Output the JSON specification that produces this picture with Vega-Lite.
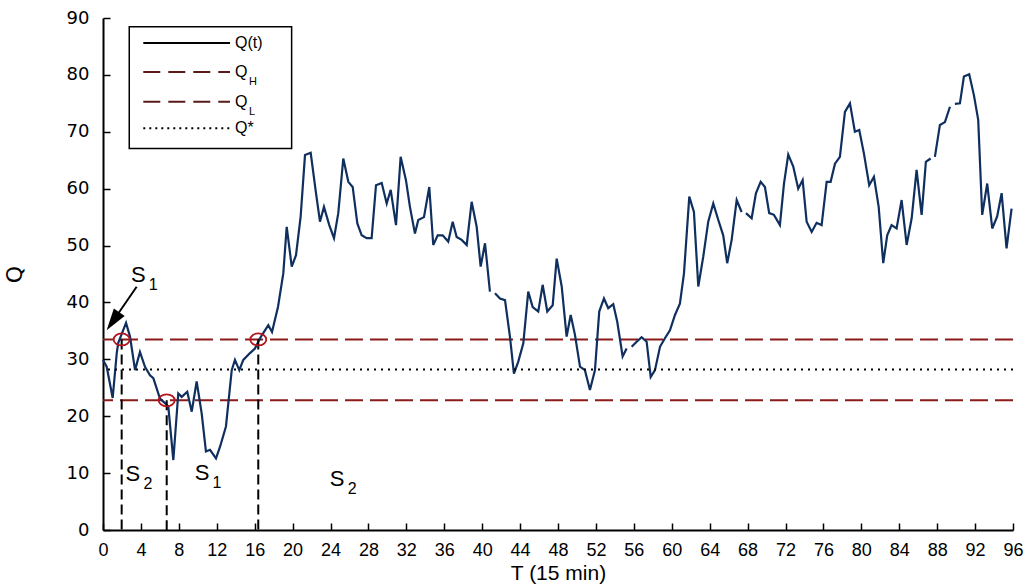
{
  "$schema": "https://vega.github.io/schema/vega-lite/v6.json",
  "width": 910,
  "height": 512,
  "autosize": {"type": "none"},
  "padding": {"left": 103, "top": 18, "right": 17, "bottom": 55},
  "background": "white",
  "config": {"view": {"stroke": null}, "font": "Liberation Sans"},
  "resolve": {"axis": {"x": "independent", "y": "independent"}},
  "datasets": {
    "q": [
      {"T":0,"Q":29.9},{"T":0.39,"Q":28.7},{"T":1.02,"Q":23.2},{"T":1.45,"Q":31.1},{"T":1.61,"Q":32.9},{"T":2.43,"Q":36.4},{"T":2.85,"Q":34.0},{"T":3.38,"Q":28.1},{"T":3.9,"Q":31.3},{"T":4.43,"Q":28.7},{"T":4.96,"Q":27.2},{"T":5.31,"Q":26.7},{"T":5.66,"Q":24.9},{"T":6.01,"Q":23.1},{"T":6.54,"Q":22.3},{"T":6.89,"Q":21.7},{"T":7.42,"Q":12.3},{"T":7.94,"Q":24.0},{"T":8.3,"Q":23.4},{"T":8.89,"Q":24.3},{"T":9.36,"Q":20.8},{"T":9.88,"Q":26.1},{"T":10.41,"Q":20.5},{"T":10.86,"Q":13.8},{"T":11.29,"Q":14.1},{"T":11.92,"Q":12.6},{"T":12.34,"Q":14.6},{"T":12.97,"Q":18.2},{"T":13.58,"Q":28.1},{"T":13.92,"Q":29.9},{"T":14.38,"Q":28.1},{"T":14.8,"Q":29.9},{"T":15.51,"Q":31.1},{"T":16.03,"Q":31.9},{"T":16.56,"Q":33.7},{"T":17.09,"Q":35.1},{"T":17.44,"Q":36.0},{"T":17.83,"Q":34.8},{"T":18.46,"Q":39.2},{"T":19.02,"Q":45.1},{"T":19.38,"Q":53.3},{"T":19.91,"Q":46.3},{"T":20.36,"Q":48.3},{"T":20.85,"Q":55.1},{"T":21.31,"Q":65.9},{"T":21.91,"Q":66.3},{"T":22.47,"Q":59.2},{"T":22.89,"Q":54.2},{"T":23.31,"Q":56.8},{"T":23.87,"Q":53.6},{"T":24.37,"Q":51.3},{"T":24.82,"Q":55.7},{"T":25.35,"Q":65.3},{"T":25.88,"Q":61.2},{"T":26.34,"Q":60.3},{"T":26.83,"Q":53.9},{"T":27.29,"Q":51.8},{"T":27.82,"Q":51.3},{"T":28.34,"Q":51.3},{"T":28.8,"Q":60.6},{"T":29.4,"Q":61.0},{"T":29.93,"Q":57.4},{"T":30.35,"Q":59.8},{"T":30.91,"Q":53.6},{"T":31.4,"Q":65.6},{"T":31.96,"Q":61.5},{"T":32.38,"Q":56.8},{"T":32.91,"Q":52.1},{"T":33.26,"Q":54.5},{"T":33.86,"Q":55.0},{"T":34.42,"Q":60.3},{"T":34.84,"Q":50.1},{"T":35.31,"Q":51.8},{"T":35.83,"Q":51.8},{"T":36.42,"Q":50.7},{"T":36.89,"Q":54.2},{"T":37.31,"Q":51.5},{"T":37.84,"Q":51.0},{"T":38.37,"Q":50.1},{"T":38.89,"Q":57.7},{"T":39.42,"Q":53.3},{"T":39.84,"Q":46.3},{"T":40.3,"Q":50.4},{"T":40.82,"Q":41.9},{"T":41.05,"Q":null},{"T":41.35,"Q":41.6},{"T":41.88,"Q":40.7},{"T":42.41,"Q":40.4},{"T":42.93,"Q":34.0},{"T":43.35,"Q":27.5},{"T":43.81,"Q":29.6},{"T":44.34,"Q":32.8},{"T":44.86,"Q":41.9},{"T":45.33,"Q":39.2},{"T":45.92,"Q":38.4},{"T":46.38,"Q":43.1},{"T":46.87,"Q":38.4},{"T":47.44,"Q":39.5},{"T":47.86,"Q":47.7},{"T":48.39,"Q":42.8},{"T":48.91,"Q":34.0},{"T":49.34,"Q":37.8},{"T":49.79,"Q":34.3},{"T":50.32,"Q":28.7},{"T":50.84,"Q":28.1},{"T":51.37,"Q":24.6},{"T":51.9,"Q":28.1},{"T":52.35,"Q":38.4},{"T":52.85,"Q":40.7},{"T":53.3,"Q":39.0},{"T":53.83,"Q":39.7},{"T":54.25,"Q":36.6},{"T":54.82,"Q":30.5},{"T":55.24,"Q":31.9},{"T":55.5,"Q":null},{"T":55.77,"Q":32.2},{"T":56.3,"Q":33.1},{"T":56.82,"Q":33.9},{"T":57.35,"Q":33.1},{"T":57.78,"Q":26.9},{"T":58.23,"Q":28.1},{"T":58.76,"Q":32.2},{"T":59.28,"Q":33.7},{"T":59.81,"Q":35.1},{"T":60.34,"Q":37.8},{"T":60.86,"Q":39.8},{"T":61.29,"Q":45.1},{"T":61.85,"Q":58.6},{"T":62.34,"Q":55.9},{"T":62.8,"Q":42.8},{"T":63.32,"Q":48.0},{"T":63.85,"Q":54.2},{"T":64.38,"Q":57.4},{"T":64.91,"Q":54.5},{"T":65.43,"Q":51.8},{"T":65.85,"Q":46.9},{"T":66.32,"Q":51.0},{"T":66.85,"Q":58.0},{"T":67.37,"Q":55.9},{"T":67.6,"Q":null},{"T":67.83,"Q":55.7},{"T":68.43,"Q":54.8},{"T":68.88,"Q":59.2},{"T":69.38,"Q":61.2},{"T":69.83,"Q":60.3},{"T":70.28,"Q":55.7},{"T":70.78,"Q":55.4},{"T":71.41,"Q":53.6},{"T":71.84,"Q":60.9},{"T":72.29,"Q":66.0},{"T":72.82,"Q":63.9},{"T":73.34,"Q":60.0},{"T":73.81,"Q":61.5},{"T":74.23,"Q":54.2},{"T":74.76,"Q":52.4},{"T":75.28,"Q":54.0},{"T":75.81,"Q":53.6},{"T":76.34,"Q":61.2},{"T":76.76,"Q":61.2},{"T":77.22,"Q":64.4},{"T":77.74,"Q":65.6},{"T":78.27,"Q":73.5},{"T":78.8,"Q":75.0},{"T":79.32,"Q":70.0},{"T":79.78,"Q":70.3},{"T":80.27,"Q":66.2},{"T":80.83,"Q":60.6},{"T":81.33,"Q":62.1},{"T":81.83,"Q":56.8},{"T":82.31,"Q":46.9},{"T":82.73,"Q":51.8},{"T":83.19,"Q":53.6},{"T":83.72,"Q":53.0},{"T":84.25,"Q":58.0},{"T":84.78,"Q":50.1},{"T":85.31,"Q":54.8},{"T":85.83,"Q":63.3},{"T":86.36,"Q":55.4},{"T":86.81,"Q":64.7},{"T":87.31,"Q":65.3},{"T":87.55,"Q":null},{"T":87.76,"Q":65.6},{"T":88.29,"Q":71.2},{"T":88.82,"Q":71.7},{"T":89.35,"Q":74.4},{"T":89.6,"Q":null},{"T":89.87,"Q":74.9},{"T":90.4,"Q":75.0},{"T":90.82,"Q":79.7},{"T":91.38,"Q":80.1},{"T":91.88,"Q":76.4},{"T":92.33,"Q":72.1},{"T":92.75,"Q":55.4},{"T":93.28,"Q":60.9},{"T":93.81,"Q":53.0},{"T":94.33,"Q":55.1},{"T":94.8,"Q":59.2},{"T":95.32,"Q":49.5},{"T":95.85,"Q":56.5}
    ],
    "limits": [{"name": "QH", "Q": 33.5}, {"name": "QL", "Q": 22.8}],
    "qstar": [{"name": "Q*", "Q": 28.2}],
    "switches": [{"T": 1.97, "Q": 33.5}, {"T": 6.72, "Q": 22.8}, {"T": 16.38, "Q": 33.5}],
    "arrow": [{"T": 3.55, "Q": 42.76, "T2": 1.05, "Q2": 36.7}],
    "labels": [
      {"T": 3.72, "Q": 44.8, "s": "S", "sub": "1"},
      {"T": 3.16, "Q": 9.84, "s": "S", "sub": "2"},
      {"T": 10.45, "Q": 10.0, "s": "S", "sub": "1"},
      {"T": 24.7, "Q": 9.0, "s": "S", "sub": "2"}
    ],
    "legendBox": [{"T": 2.77, "Q": 88.45, "T2": 19.9, "Q2": 67.08}],
    "legendItems": [
      {"T": 4.25, "T2": 13.4, "Q": 85.6, "k": "solid", "txt": "Q(t)", "sub": ""},
      {"T": 4.25, "T2": 13.4, "Q": 80.5, "k": "dash", "txt": "Q", "sub": "H"},
      {"T": 4.25, "T2": 13.4, "Q": 75.3, "k": "dash", "txt": "Q", "sub": "L"},
      {"T": 4.25, "T2": 13.4, "Q": 70.6, "k": "dot", "txt": "Q*", "sub": ""}
    ]
  },
  "layer": [
    {
      "data": {"name": "limits"},
      "mark": {"type": "rule", "color": "#8b1a1a", "strokeWidth": 2, "strokeDash": [18, 7]},
      "encoding": {
        "y": {"field": "Q", "type": "quantitative", "scale": {"domain": [0, 90], "nice": false}, "axis": null}
      }
    },
    {
      "data": {"name": "q"},
      "mark": {"type": "line", "color": "#0f2f5f", "strokeWidth": 2.2, "invalid": "break-paths-filter-domains"},
      "encoding": {
        "x": {"field": "T", "type": "quantitative", "scale": {"domain": [0, 96], "nice": false},
          "axis": {"values": [0,4,8,12,16,20,24,28,32,36,40,44,48,52,56,60,64,68,72,76,80,84,88,92,96], "title": "T (15 min)", "titleFontSize": 21, "titleFontWeight": "normal", "titleColor": "black", "titlePadding": 3,
            "labelFontSize": 18, "labelColor": "black", "labelPadding": 18, "labelFlush": false, "labelOverlap": false,
            "domainColor": "black", "domainWidth": 2, "tickColor": "black", "tickWidth": 1.5, "tickSize": -7, "grid": false}},
        "y": {"field": "Q", "type": "quantitative",
          "axis": {"values": [0,10,20,30,40,50,60,70,80,90], "title": "Q", "titleFont": "DejaVu Sans", "titleFontSize": 22, "titleFontWeight": "normal", "titleColor": "black", "titlePadding": 40,
            "labelFont": "DejaVu Sans", "labelFontSize": 18, "labelColor": "black", "labelPadding": 21,
            "domainColor": "black", "domainWidth": 2, "tickColor": "black", "tickWidth": 1.5, "tickSize": -7, "grid": false}}
      }
    },
    {
      "data": {"name": "qstar"},
      "mark": {"type": "rule", "color": "black", "strokeWidth": 2, "strokeDash": [2, 5]},
      "encoding": {"y": {"field": "Q", "type": "quantitative", "axis": null}}
    },
    {
      "data": {"name": "switches"},
      "mark": {"type": "rule", "color": "black", "strokeWidth": 2, "strokeDash": [10, 5]},
      "encoding": {
        "x": {"field": "T", "type": "quantitative", "axis": null},
        "y": {"field": "Q", "type": "quantitative", "axis": null},
        "y2": {"datum": 0}
      }
    },
    {
      "data": {"name": "switches"},
      "mark": {"type": "point", "shape": "M-1,0A1,0.75 0 1,0 1,0A1,0.75 0 1,0 -1,0Z", "size": 256, "filled": false, "color": "#b3141e", "strokeWidth": 1.8, "opacity": 1},
      "encoding": {
        "x": {"field": "T", "type": "quantitative", "axis": null},
        "y": {"field": "Q", "type": "quantitative", "axis": null}
      }
    },
    {
      "data": {"name": "arrow"},
      "mark": {"type": "rule", "color": "black", "strokeWidth": 2},
      "encoding": {
        "x": {"field": "T", "type": "quantitative", "axis": null},
        "y": {"field": "Q", "type": "quantitative", "axis": null},
        "x2": {"field": "T2"},
        "y2": {"field": "Q2"}
      }
    },
    {
      "data": {"name": "arrow"},
      "mark": {"type": "point", "shape": "M0,-1L0.6,1L-0.6,1Z", "size": 484, "filled": true, "color": "black", "opacity": 1, "angle": 215},
      "encoding": {
        "x": {"field": "T2", "type": "quantitative", "axis": null},
        "y": {"field": "Q2", "type": "quantitative", "axis": null}
      }
    },
    {
      "data": {"name": "labels"},
      "mark": {"type": "text", "fontSize": 22, "color": "black", "align": "center", "baseline": "middle"},
      "encoding": {
        "x": {"field": "T", "type": "quantitative", "axis": null},
        "y": {"field": "Q", "type": "quantitative", "axis": null},
        "text": {"field": "s"}
      }
    },
    {
      "data": {"name": "labels"},
      "mark": {"type": "text", "fontSize": 16, "color": "black", "align": "center", "baseline": "middle", "dx": 15, "dy": 10},
      "encoding": {
        "x": {"field": "T", "type": "quantitative", "axis": null},
        "y": {"field": "Q", "type": "quantitative", "axis": null},
        "text": {"field": "sub"}
      }
    },
    {
      "data": {"name": "legendBox"},
      "mark": {"type": "rect", "fill": "white", "stroke": "black", "strokeWidth": 1.5},
      "encoding": {
        "x": {"field": "T", "type": "quantitative", "axis": null},
        "y": {"field": "Q", "type": "quantitative", "axis": null},
        "x2": {"field": "T2"},
        "y2": {"field": "Q2"}
      }
    },
    {
      "data": {"name": "legendItems"},
      "transform": [{"filter": "datum.k === 'solid'"}],
      "mark": {"type": "rule", "color": "black", "strokeWidth": 2},
      "encoding": {
        "x": {"field": "T", "type": "quantitative", "axis": null},
        "x2": {"field": "T2"},
        "y": {"field": "Q", "type": "quantitative", "axis": null}
      }
    },
    {
      "data": {"name": "legendItems"},
      "transform": [{"filter": "datum.k === 'dash'"}],
      "mark": {"type": "rule", "color": "#5a1a1a", "strokeWidth": 2, "strokeDash": [17, 8]},
      "encoding": {
        "x": {"field": "T", "type": "quantitative", "axis": null},
        "x2": {"field": "T2"},
        "y": {"field": "Q", "type": "quantitative", "axis": null}
      }
    },
    {
      "data": {"name": "legendItems"},
      "transform": [{"filter": "datum.k === 'dot'"}],
      "mark": {"type": "rule", "color": "black", "strokeWidth": 2, "strokeDash": [2, 4]},
      "encoding": {
        "x": {"field": "T", "type": "quantitative", "axis": null},
        "x2": {"field": "T2"},
        "y": {"field": "Q", "type": "quantitative", "axis": null}
      }
    },
    {
      "data": {"name": "legendItems"},
      "mark": {"type": "text", "fontSize": 16, "color": "black", "align": "left", "baseline": "middle", "dx": 5},
      "encoding": {
        "x": {"field": "T2", "type": "quantitative", "axis": null},
        "y": {"field": "Q", "type": "quantitative", "axis": null},
        "text": {"field": "txt"}
      }
    },
    {
      "data": {"name": "legendItems"},
      "mark": {"type": "text", "fontSize": 11, "color": "black", "align": "left", "baseline": "middle", "dx": 19, "dy": 10},
      "encoding": {
        "x": {"field": "T2", "type": "quantitative", "axis": null},
        "y": {"field": "Q", "type": "quantitative", "axis": null},
        "text": {"field": "sub"}
      }
    }
  ]
}
